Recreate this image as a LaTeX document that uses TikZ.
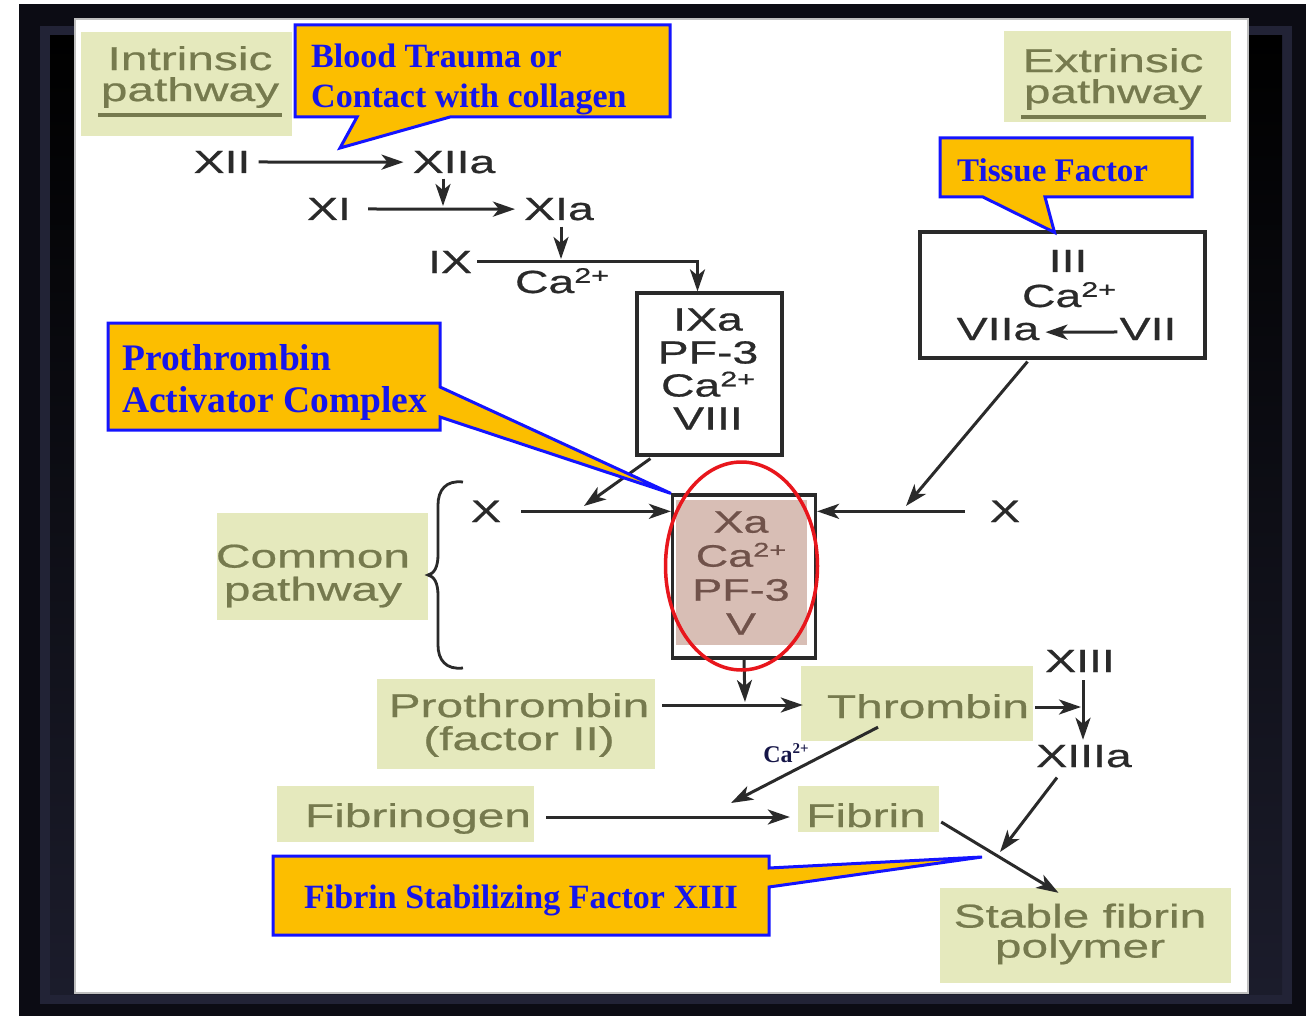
\documentclass[tikz,border=0pt]{standalone}
\usepackage{fontspec}
\setmainfont{Liberation Serif}
\newfontfamily\dgfont[FakeStretch=1.45,FakeBold=0.6]{Liberation Sans}
\usetikzlibrary{arrows.meta,calc}
\definecolor{framedark}{RGB}{12,12,20}
\definecolor{frameblue}{RGB}{34,35,54}
\definecolor{gfill}{RGB}{229,233,189}
\definecolor{gtext}{RGB}{118,122,78}
\definecolor{dgray}{RGB}{42,42,42}
\definecolor{cofill}{RGB}{252,190,0}
\definecolor{coline}{RGB}{20,20,255}
\definecolor{cotext}{RGB}{22,22,235}
\definecolor{pinkfill}{RGB}{216,190,181}
\definecolor{pinktext}{RGB}{112,82,74}
\definecolor{ellred}{RGB}{232,22,28}
\definecolor{catext}{RGB}{22,22,72}
\newcommand{\fsz}[2]{\fontsize{#1}{#2}\selectfont}
\newcommand{\Caion}[1]{Ca\raisebox{0.32em}{\fontsize{#1}{#1}\selectfont 2+}}
\begin{document}
\begin{tikzpicture}[x=1pt,y=-1pt,
  dg/.style={font={\dgfont\fsz{32}{33}}, text=dgray, inner sep=0pt},
  gbox/.style={fill=gfill, inner sep=0pt},
  gtxt/.style={font={\dgfont\fsz{33}{32}}, text=gtext, inner sep=0pt, align=center},
  arr/.style={draw=dgray, line width=3pt, -{Stealth[length=22pt,width=15pt,inset=6pt]}},
  cbox/.style={draw=dgray, line width=3.2pt, inner sep=0pt},
  callout/.style={fill=cofill, draw=coline, line width=3pt, line join=miter},
  cotxt/.style={text=cotext, inner sep=0pt, align=left},
  uline/.style={draw=gtext, line width=3.5pt},
]
\useasboundingbox (0,0) rectangle (1306,1016);
% frame
\fill[white] (0,0) rectangle (1306,1016);
\fill[framedark] (19,4) rectangle (1306,1016);
\fill[frameblue] (40,26) rectangle (1292,1004);
\shade[top color=black, bottom color=frameblue!80!black] (50,36) rectangle (1282,994);
\fill[white] (75,19) rectangle (1248,993);
\draw[gray!50, line width=1.5pt] (75,19) rectangle (1248,993);

% green label boxes
\node[gbox, minimum width=211pt, minimum height=104pt] (intrbox) at (186.5,84) {};
\node[gbox, minimum width=227pt, minimum height=91pt] (extrbox) at (1117.5,76.5) {};
\node[gbox, minimum width=211pt, minimum height=107pt] (combox) at (322.5,566.5) {};
\node[gbox, minimum width=278pt, minimum height=90pt] (prbox) at (516,724) {};
\node[gbox, minimum width=232pt, minimum height=75pt] (thrbox) at (917,703.5) {};
\node[gbox, minimum width=257pt, minimum height=56pt] (fgbox) at (405.5,814) {};
\node[gbox, minimum width=141pt, minimum height=46pt] (fibox) at (868.5,809) {};
\node[gbox, minimum width=291pt, minimum height=95pt] (stbox) at (1085.5,935.5) {};

\node[gtxt, font={\dgfont\fsz{33}{31}}] (intr) at (190,77) {Intrinsic\\pathway};
\draw[uline] (98,115) -- (282,115);
\node[gtxt, font={\dgfont\fsz{33}{31}}] (extr) at (1113,79) {Extrinsic\\pathway};
\draw[uline] (1021,117) -- (1206,117);
\node[gtxt, font={\dgfont\fsz{33}{33}}] (comtxt) at (313,576) {Common\\pathway};
\node[gtxt, font={\dgfont\fsz{33}{33}}] (prtxt) at (519,725) {Prothrombin\\(factor II)};
\node[gtxt, anchor=base] (thrtxt) at (928,718) {Thrombin};
\node[gtxt, anchor=base] (fgtxt) at (418,827) {Fibrinogen};
\node[gtxt, anchor=base] (fitxt) at (866,827) {Fibrin};
\node[gtxt, font={\dgfont\fsz{33}{30}}] (sttxt) at (1080,934) {Stable fibrin\\polymer};

% brace
\draw[dgray, line width=2.8pt] (463,482) .. controls (446,480) and (438,490) .. (438,505) -- (438,555) .. controls (438,567) and (434,574) .. (428,575) .. controls (434,576) and (438,583) .. (438,595) -- (438,645) .. controls (438,660) and (446,670) .. (463,668);

% intrinsic cascade
\node[dg, anchor=base] (XII) at (222,173) {XII};
\node[dg, anchor=base] (XIIa) at (454,173) {XIIa};
\node[dg, anchor=base] (XI) at (329,220) {XI};
\node[dg, anchor=base] (XIa) at (559,220) {XIa};
\node[dg, anchor=base] (IX) at (450,273) {IX};
\node[dg, anchor=base] (ca1) at (562,293) {\Caion{21}};
\coordinate (j1) at (443,206);
\coordinate (j2) at (561,259);
\draw[arr] ($(XII.east)+(8,0)$) -- ($(XIIa.west)+(-9,0)$);
\draw[arr] ($(XIIa.south)+(-11,5)$) -- (j1);
\draw[arr] ($(XI.east)+(17,0)$) -- ($(XIa.west)+(-9,0)$);
\draw[arr] ($(XIa.south)+(2,6)$) -- (j2);

\node[cbox, minimum width=145pt, minimum height=162pt] (ixabox) at (709.5,374) {};
\node[dg, align=center] (ixatxt) at (708,369) {IXa\\PF-3\\\Caion{21}\\VIII};
\draw[arr] ($(IX.east)+(5,0)$) -| ($(ixabox.north)+(-12,0)$);

% extrinsic
\node[cbox, minimum width=285pt, minimum height=126pt] (iiibox) at (1062.5,295) {};
\node[dg, anchor=base] (III) at (1068,272) {III};
\node[dg, anchor=base] (ca2) at (1069,307) {\Caion{21}};
\node[dg, anchor=base] (VIIa) at (998,340) {VIIa};
\node[dg, anchor=base] (VII) at (1148,340) {VII};
\draw[arr] ($(VII.west)+(-2,3)$) -- ($(VIIa.east)+(6,3)$);

% common pathway complex
\fill[pinkfill] (676,500) rectangle (807,645);
\node[cbox, minimum width=143pt, minimum height=163pt] (xabox) at (744,576.5) {};
\node[dg, align=center, text=pinktext, font={\dgfont\fsz{31}{34}}] (xatxt) at (741,573) {Xa\\\Caion{20}\\PF-3\\V};
\node[dg, anchor=base, font={\dgfont\fsz{31}{33}}] (Xl) at (486,522) {X};
\node[dg, anchor=base, font={\dgfont\fsz{31}{33}}] (Xr) at (1005,522) {X};
\coordinate (j3) at (584,506);
\coordinate (j4) at (906,506);
\draw[arr] ($(Xl.east)+(20,0)$) -- (Xl.east -| xabox.west);
\draw[arr] ($(Xr.west)+(-25,0)$) -- (Xr.west -| xabox.east);
\draw[arr] ($(ixabox.south west)+(15,2)$) -- (j3);
\draw[arr] ($(iiibox.south)+(-35,2)$) -- (j4);

% lower part
\node[dg, anchor=base] (XIII) at (1080,672) {XIII};
\node[dg, anchor=base] (XIIIa) at (1084,767) {XIIIa};
\node[anchor=base, inner sep=0pt, text=catext, font={\bfseries\fsz{24}{24}}] (ca3) at (786,762) {Ca\raisebox{0.35em}{\fontsize{15}{15}\selectfont 2+}};
\coordinate (j5) at (745,702);
\coordinate (j6) at (1081,707);
\coordinate (j7) at (731,803);
\coordinate (j8) at (1000,852);
\draw[arr] (xabox.south) -- (j5);
\draw[arr] ($(prbox.east)+(7,-19)$) -- ($(thrbox.west)+(2,1.5)$);
\draw[arr] ($(thrbox.east)+(2,3.5)$) -- (j6);
\draw[arr] ($(XIII.south)+(3,8)$) -- ($(XIIIa.north)+(-1,-5)$);
\draw[arr] ($(thrbox.south)+(-39,-14)$) -- (j7);
\draw[arr] ($(fgbox.east)+(12,3)$) -- ($(fibox.west)+(-8,8)$);
\draw[arr] ($(XIIIa.south)+(-27,10)$) -- (j8);

% callouts
\coordinate (tipblood) at (340,148);
\draw[callout] (295,25) -- (670,25) -- (670,117) -- (450,117) -- (tipblood) -- (357,117) -- (295,117) -- cycle;
\node[cotxt, anchor=north west, font={\bfseries\fsz{34}{40}}] (bloodtxt) at (311,44) {Blood Trauma or\\Contact with collagen};

\draw[callout] (940,138) -- (1192,138) -- (1192,197) -- (1045,197) -- ($(iiibox.north)+(-8,2)$) -- (983,197) -- (940,197) -- cycle;
\node[cotxt, anchor=base west, font={\bfseries\fsz{33}{33}}] (tftxt) at (957,182) {Tissue Factor};

\coordinate (tipfsf) at (982,857);
\draw[callout] (273,856) -- (769,856) -- (769,868) -- (tipfsf) -- (769,887) -- (769,935) -- (273,935) -- cycle;
\draw[arr] ($(fibox.east)+(2,13)$) -- ($(stbox.north)+(-27,5)$);
\node[cotxt, anchor=base, font={\bfseries\fsz{34}{34}}] (fsftxt) at (521,908) {Fibrin Stabilizing Factor XIII};

\draw[callout] (108,323) -- (440,323) -- (440,387) -- (xabox.north west) -- (440,417) -- (440,430) -- (108,430) -- cycle;
\node[cotxt, anchor=north west, font={\bfseries\fsz{37.5}{42}}] (pactxt) at (122,344) {Prothrombin\\Activator Complex};

% red ellipse
\draw[ellred, line width=3.5pt] (741.5,566) ellipse [x radius=76pt, y radius=104pt];
\end{tikzpicture}
\end{document}
